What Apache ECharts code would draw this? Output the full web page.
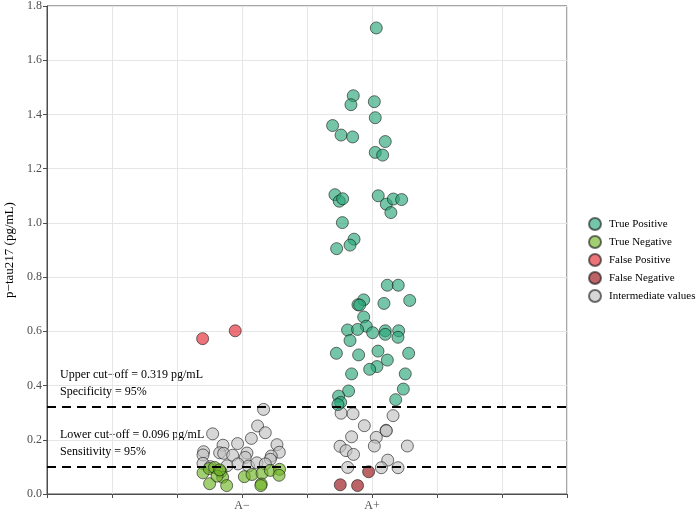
<!DOCTYPE html>
<html>
<head>
<meta charset="utf-8">
<script src="https://cdn.jsdelivr.net/npm/echarts@6/dist/echarts.min.js"></script>
<style>
  html, body { margin: 0; padding: 0; background: #fff; }
  #chart { width: 700px; height: 514px; }
</style>
</head>
<body>
<div id="chart"></div>
<script>
// groups sit at x = 1.5 and x = 2.5, points are jittered around them
const groupNames = ["A−", "A+"];
const groupPos = [1.5, 2.5];
const cutoffs = [0.319, 0.096];

const truePositive = [
  [2.533, 1.719], [2.356, 1.469], [2.338, 1.436], [2.518, 1.447], [2.525, 1.388],
  [2.197, 1.359], [2.262, 1.324], [2.351, 1.317], [2.602, 1.300], [2.525, 1.260],
  [2.582, 1.250], [2.215, 1.104], [2.248, 1.080], [2.274, 1.089], [2.548, 1.100],
  [2.610, 1.069], [2.664, 1.088], [2.728, 1.086], [2.645, 1.038], [2.272, 1.001],
  [2.362, 0.940], [2.331, 0.918], [2.228, 0.905], [2.618, 0.770], [2.702, 0.770],
  [2.436, 0.716], [2.790, 0.714], [2.592, 0.703], [2.392, 0.698], [2.405, 0.697],
  [2.436, 0.653], [2.456, 0.619], [2.312, 0.605], [2.389, 0.607], [2.505, 0.595],
  [2.602, 0.602], [2.602, 0.589], [2.705, 0.602], [2.700, 0.578], [2.331, 0.566],
  [2.226, 0.519], [2.397, 0.513], [2.546, 0.527], [2.782, 0.519], [2.618, 0.494],
  [2.538, 0.470], [2.482, 0.460], [2.343, 0.443], [2.756, 0.443], [2.741, 0.387],
  [2.320, 0.380], [2.682, 0.348], [2.243, 0.361], [2.259, 0.338], [2.238, 0.330]
];

const trueNegative = [
  [1.200, 0.078], [1.248, 0.094], [1.289, 0.098], [1.338, 0.082], [1.351, 0.062],
  [1.382, 0.031], [1.251, 0.038], [1.308, 0.066], [1.518, 0.064], [1.577, 0.072],
  [1.654, 0.076], [1.648, 0.037], [1.645, 0.031], [1.718, 0.087], [1.789, 0.091],
  [1.785, 0.069], [1.328, 0.089]
];

const falsePositive = [[1.197, 0.573], [1.448, 0.602]];

const falseNegative = [[2.474, 0.082], [2.256, 0.034], [2.389, 0.031]];

const intermediate = [
  [1.666, 0.312], [1.620, 0.251], [1.274, 0.222], [1.679, 0.226], [1.572, 0.205],
  [1.354, 0.180], [1.466, 0.186], [1.769, 0.182], [1.205, 0.156], [1.328, 0.152],
  [1.359, 0.150], [1.538, 0.151], [1.787, 0.154], [1.200, 0.144], [1.428, 0.143],
  [1.525, 0.135], [1.725, 0.140], [1.718, 0.128], [1.200, 0.113], [1.385, 0.104],
  [1.469, 0.111], [1.551, 0.103], [1.615, 0.115], [1.679, 0.111], [1.256, 0.101],
  [2.262, 0.298], [2.354, 0.296], [2.662, 0.289], [2.441, 0.252], [2.608, 0.235],
  [2.610, 0.233], [2.343, 0.211], [2.533, 0.209], [2.254, 0.176], [2.518, 0.177],
  [2.772, 0.177], [2.300, 0.160], [2.358, 0.146], [2.621, 0.125], [2.313, 0.098],
  [2.572, 0.097], [2.700, 0.097]
];

const serif = "'Liberation Serif', 'DejaVu Serif', serif";

function pts(name, data, color, z) {
  return {
    name: name,
    type: "scatter",
    data: data,
    symbolSize: 12,
    z: z,
    itemStyle: {
      color: color,
      borderColor: "rgba(20,20,20,0.75)",
      borderWidth: 1
    },
    emphasis: { disabled: true }
  };
}

const chart = echarts.init(document.getElementById("chart"));
chart.setOption({
  animation: false,
  backgroundColor: "#fff",
  grid: {
    left: 47, right: 133, top: 6, bottom: 20,
    outerBoundsMode: "none",
    show: true, borderColor: "#4d4d4d", borderWidth: 1
  },
  legend: {
    data: ["True Positive", "True Negative", "False Positive", "False Negative", "Intermediate values"],
    orient: "vertical",
    left: 583,
    top: 212,
    icon: "circle",
    itemWidth: 12,
    itemHeight: 12,
    itemGap: 4,
    textStyle: { fontFamily: serif, fontSize: 11, color: "#000", lineHeight: 14, padding: [0, 0, 0, 3] }
  },
  xAxis: {
    type: "value",
    min: 0, max: 4, interval: 0.5,
    axisLine: { show: true, lineStyle: { color: "#4d4d4d", width: 1 } },
    axisTick: { show: true, length: 4, lineStyle: { color: "#4d4d4d" } },
    axisLabel: {
      margin: 6,
      fontFamily: serif, fontSize: 12, color: "#4d4d4d",
      formatter: function (v) {
        const i = groupPos.indexOf(v);
        return i >= 0 ? groupNames[i] : "";
      }
    },
    splitLine: { show: true, lineStyle: { color: "#e6e6e6", width: 1 } }
  },
  yAxis: {
    type: "value",
    min: 0, max: 1.8, interval: 0.2,
    name: "p−tau217 (pg/mL)",
    nameLocation: "middle",
    nameGap: 30,
    nameTextStyle: { fontFamily: serif, fontSize: 13, color: "#000" },
    axisLine: { show: true, lineStyle: { color: "#4d4d4d", width: 1 } },
    axisTick: { show: true, length: 4, lineStyle: { color: "#4d4d4d" } },
    axisLabel: {
      margin: 5,
      fontFamily: serif, fontSize: 12, color: "#4d4d4d",
      formatter: function (v) { return v.toFixed(1); }
    },
    splitLine: { show: true, lineStyle: { color: "#e6e6e6", width: 1 } }
  },
  graphic: [
    { type: "text", left: 60, top: 369, style: { text: "Upper cut−off = 0.319 pg/mL", font: "12px " + serif, fill: "#000" } },
    { type: "text", left: 60, top: 386, style: { text: "Specificity = 95%", font: "12px " + serif, fill: "#000" } },
    { type: "text", left: 60, top: 429, style: { text: "Lower cut−off = 0.096 pg/mL", font: "12px " + serif, fill: "#000" } },
    { type: "text", left: 60, top: 446, style: { text: "Sensitivity = 95%", font: "12px " + serif, fill: "#000" } }
  ],
  series: [
    pts("Intermediate values", intermediate, "rgba(192,192,192,0.8)", 2),
    pts("True Positive", truePositive, "rgba(39,166,119,0.8)", 3),
    pts("True Negative", trueNegative, "rgba(111,180,36,0.8)", 3),
    pts("False Positive", falsePositive, "rgba(226,36,46,0.8)", 3),
    pts("False Negative", falseNegative, "rgba(149,11,17,0.8)", 3),
    {
      type: "line",
      data: [],
      z: 10,
      markLine: {
        silent: true,
        symbol: "none",
        label: { show: false },
        lineStyle: { color: "#000", width: 2.2, type: [9, 6] },
        data: cutoffs.map(function (c) { return { yAxis: c }; })
      }
    }
  ]
});
</script>
</body>
</html>
